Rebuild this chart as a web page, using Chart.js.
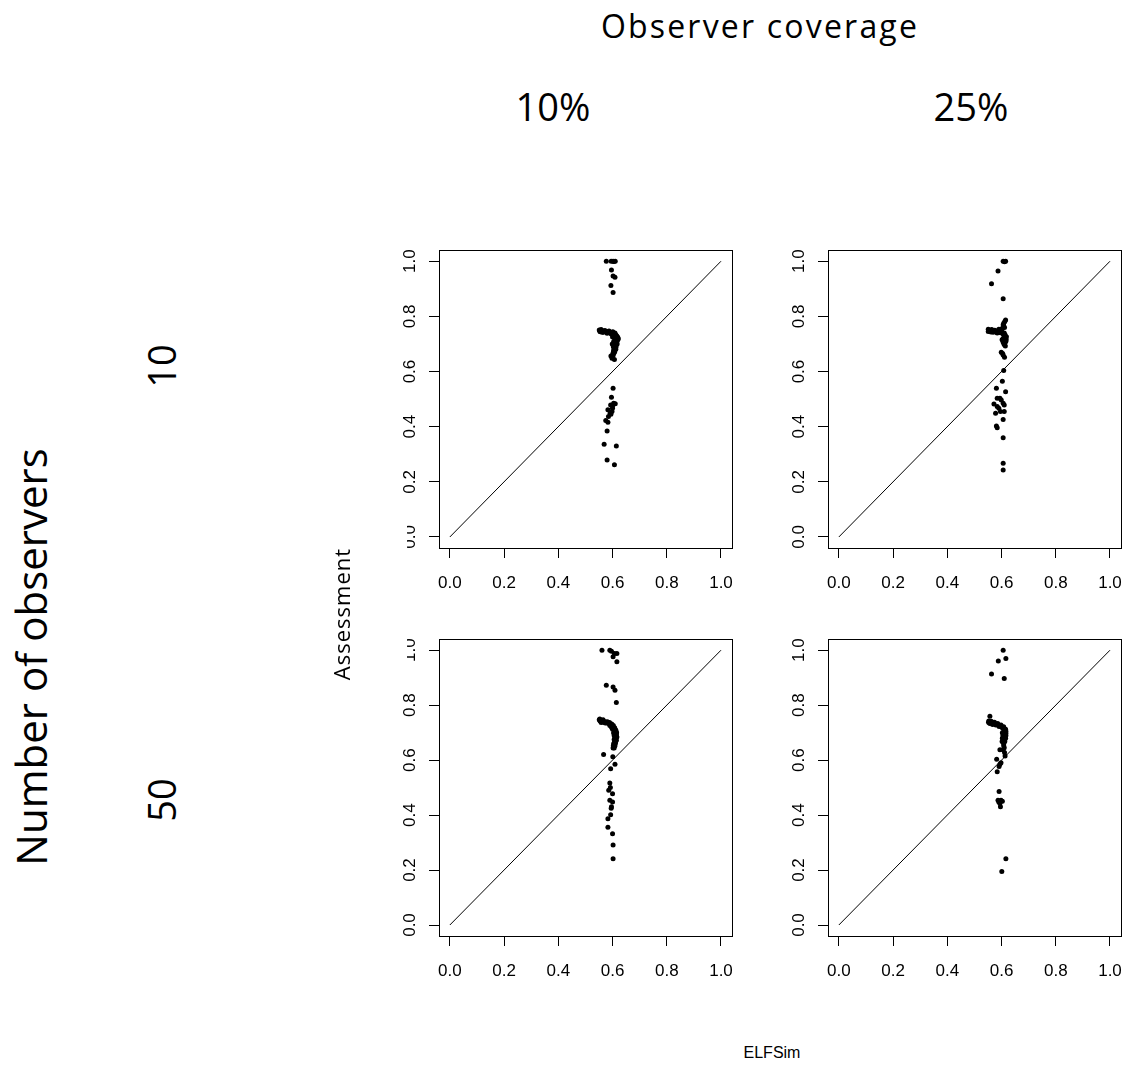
<!DOCTYPE html>
<html>
<head>
<meta charset="utf-8">
<script src="https://cdn.jsdelivr.net/npm/chart.js@4.4.1/dist/chart.umd.min.js"></script>
<style>
  html, body { margin: 0; padding: 0; background: #fff; width: 1137px; height: 1068px; overflow: hidden; position: relative; }
  canvas { position: absolute; }
  .lbl { position: absolute; font-family: "Open Sans", sans-serif; color: #000; white-space: nowrap; line-height: 1; transform: translate(-50%, -50%); }
  .rot { transform: translate(-50%, -50%) rotate(-90deg); }
  .mask { position: absolute; background: #fff; }
</style>
</head>
<body>
<div class="lbl" style="left:760px; top:26px; font-size:32px; letter-spacing:2.2px;">Observer coverage</div>
<div class="lbl" style="left:553px; top:106px; font-size:38px;">10%</div>
<div class="lbl" style="left:971px; top:106px; font-size:38px;">25%</div>
<div class="lbl rot" style="left:31px; top:657px; font-size:42px;">Number of observers</div>
<div class="lbl rot" style="left:161px; top:366px; font-size:38px;">10</div>
<div class="lbl rot" style="left:161px; top:800px; font-size:38px;">50</div>
<div class="lbl" style="left:772px; top:1053px; font-size:16px; font-family:'Liberation Sans', Arial, sans-serif;">ELFSim</div>

<script>
// ELFSim (x) against Assessment (y) for each observer coverage / number of observers combination
const tickValues = [0.0, 0.2, 0.4, 0.6, 0.8, 1.0];
const refLineX = [0, 1];
const refLineY = [0, 1];

// Coverage 10%, 10 observers
const elfsim_c10_o10 = [
  0.577, 0.595, 0.602, 0.610, 0.605, 0.596, 0.602, 0.609, 0.594, 0.602,
  0.551, 0.556, 0.560, 0.565, 0.569, 0.574, 0.578, 0.583, 0.588, 0.593,
  0.598, 0.603, 0.608, 0.612, 0.616, 0.619, 0.618, 0.617, 0.615, 0.614,
  0.611, 0.609, 0.606, 0.604, 0.603, 0.601, 0.602, 0.598, 0.607, 0.594,
  0.555, 0.562, 0.600, 0.606, 0.611, 0.608, 0.604, 0.611, 0.620, 0.613,
  0.607, 0.603, 0.612, 0.608, 0.599,
  0.553, 0.558, 0.566, 0.572, 0.580, 0.587, 0.595, 0.601, 0.609, 0.614,
  0.621, 0.613, 0.610, 0.617, 0.606, 0.605, 0.609, 0.600,
  0.602, 0.596, 0.604, 0.610, 0.593, 0.600, 0.583, 0.591, 0.585, 0.575,
  0.583, 0.580, 0.569, 0.614, 0.580, 0.607, 0.600, 0.598, 0.594
];
const assess_c10_o10 = [
  1.000, 1.000, 1.000, 1.000, 0.999, 0.968, 0.946, 0.942, 0.912, 0.887,
  0.751, 0.749, 0.748, 0.747, 0.746, 0.745, 0.744, 0.744, 0.743, 0.741,
  0.740, 0.738, 0.736, 0.733, 0.729, 0.724, 0.718, 0.712, 0.706, 0.700,
  0.694, 0.688, 0.682, 0.676, 0.670, 0.664, 0.658, 0.648, 0.644, 0.656,
  0.744, 0.742, 0.733, 0.728, 0.722, 0.715, 0.708, 0.714, 0.716, 0.690,
  0.698, 0.690, 0.681, 0.672, 0.700,
  0.746, 0.752, 0.742, 0.749, 0.739, 0.747, 0.736, 0.744, 0.740, 0.726,
  0.720, 0.710, 0.703, 0.700, 0.692, 0.666, 0.684, 0.725,
  0.539, 0.507, 0.485, 0.483, 0.479, 0.467, 0.461, 0.449, 0.437, 0.422,
  0.416, 0.384, 0.336, 0.330, 0.279, 0.262, 0.475, 0.455, 0.445
];

// Coverage 25%, 10 observers
const elfsim_c25_o10 = [
  0.606, 0.615, 0.611, 0.587, 0.563, 0.606,
  0.551, 0.551, 0.556, 0.561, 0.561, 0.566, 0.572, 0.577, 0.584, 0.584,
  0.590, 0.596, 0.600, 0.603, 0.608, 0.608, 0.612, 0.615, 0.606, 0.611,
  0.614, 0.617, 0.610, 0.606, 0.613, 0.611, 0.606, 0.602, 0.599, 0.606,
  0.611, 0.604,
  0.553, 0.558, 0.564, 0.569, 0.575, 0.580, 0.588, 0.593, 0.610, 0.613,
  0.618, 0.616, 0.609, 0.614, 0.610, 0.606, 0.611,
  0.608, 0.603, 0.581, 0.615, 0.572, 0.584, 0.594, 0.599, 0.606, 0.610,
  0.584, 0.590, 0.596, 0.578, 0.610, 0.606, 0.581, 0.584, 0.606, 0.606,
  0.606
];
const assess_c25_o10 = [
  1.000, 1.000, 0.998, 0.965, 0.918, 0.864,
  0.753, 0.745, 0.750, 0.750, 0.743, 0.748, 0.746, 0.747, 0.746, 0.740,
  0.753, 0.741, 0.748, 0.757, 0.766, 0.775, 0.781, 0.787, 0.735, 0.728,
  0.722, 0.716, 0.712, 0.706, 0.705, 0.697, 0.720, 0.715, 0.670, 0.660,
  0.652, 0.665,
  0.748, 0.746, 0.752, 0.742, 0.750, 0.743, 0.748, 0.745, 0.740, 0.733,
  0.726, 0.710, 0.700, 0.693, 0.718, 0.770, 0.760,
  0.604, 0.565, 0.539, 0.527, 0.482, 0.503, 0.503, 0.497, 0.485, 0.479,
  0.473, 0.467, 0.455, 0.449, 0.455, 0.426, 0.402, 0.396, 0.360, 0.267,
  0.243
];

// Coverage 10%, 50 observers
const elfsim_c10_o50 = [
  0.561, 0.590, 0.596, 0.607, 0.616, 0.602, 0.616, 0.577, 0.602, 0.609,
  0.614,
  0.551, 0.554, 0.557, 0.560, 0.563, 0.567, 0.571, 0.575, 0.579, 0.583,
  0.587, 0.591, 0.595, 0.598, 0.602, 0.605, 0.607, 0.609, 0.610, 0.611,
  0.611, 0.610, 0.609, 0.607, 0.604, 0.603, 0.602, 0.615, 0.614, 0.613,
  0.612, 0.606, 0.604, 0.600, 0.596, 0.590, 0.606, 0.608, 0.605,
  0.553, 0.558, 0.565, 0.573, 0.581, 0.589, 0.597, 0.603, 0.608, 0.612,
  0.614, 0.616, 0.614, 0.611, 0.609, 0.606, 0.613, 0.606, 0.608,
  0.567, 0.601, 0.609, 0.593,
  0.590, 0.586, 0.600, 0.590, 0.600, 0.595, 0.593, 0.583, 0.583, 0.600,
  0.602, 0.602, 0.592, 0.596
];
const assess_c10_o50 = [
  1.000, 1.000, 0.996, 0.988, 0.988, 0.976, 0.958, 0.872, 0.866, 0.854,
  0.810,
  0.747, 0.742, 0.745, 0.740, 0.743, 0.738, 0.740, 0.739, 0.735, 0.736,
  0.733, 0.730, 0.727, 0.723, 0.719, 0.714, 0.709, 0.703, 0.698, 0.692,
  0.686, 0.680, 0.674, 0.667, 0.660, 0.652, 0.644, 0.700, 0.690, 0.680,
  0.670, 0.690, 0.700, 0.712, 0.720, 0.726, 0.675, 0.660, 0.650,
  0.750, 0.737, 0.747, 0.735, 0.740, 0.737, 0.731, 0.726, 0.718, 0.710,
  0.696, 0.684, 0.672, 0.662, 0.652, 0.644, 0.704, 0.697, 0.685,
  0.620, 0.612, 0.585, 0.569,
  0.517, 0.490, 0.478, 0.454, 0.448, 0.425, 0.401, 0.387, 0.356, 0.332,
  0.291, 0.241, 0.500, 0.430
];

// Coverage 25%, 50 observers
const elfsim_c25_o50 = [
  0.606, 0.588, 0.616, 0.563, 0.610,
  0.557, 0.553, 0.555, 0.560, 0.565, 0.569, 0.572, 0.577, 0.581, 0.584,
  0.589, 0.593, 0.596, 0.601, 0.606, 0.609, 0.610, 0.612, 0.613, 0.613,
  0.612, 0.610, 0.606, 0.602, 0.608, 0.608, 0.594, 0.606, 0.613, 0.616,
  0.616, 0.603, 0.605, 0.603, 0.610,
  0.552, 0.557, 0.562, 0.567, 0.574, 0.579, 0.586, 0.591, 0.598, 0.604,
  0.608, 0.615, 0.611, 0.616, 0.609, 0.615, 0.612, 0.607, 0.611,
  0.582, 0.594, 0.591, 0.584, 0.598,
  0.591, 0.587, 0.598, 0.603, 0.594, 0.596, 0.616, 0.601, 0.590
];
const assess_c25_o50 = [
  1.000, 0.961, 0.970, 0.913, 0.897,
  0.760, 0.742, 0.736, 0.738, 0.735, 0.736, 0.733, 0.732, 0.730, 0.729,
  0.727, 0.725, 0.724, 0.721, 0.718, 0.713, 0.706, 0.700, 0.693, 0.686,
  0.679, 0.672, 0.676, 0.668, 0.660, 0.652, 0.638, 0.638, 0.615, 0.705,
  0.690, 0.700, 0.690, 0.680, 0.645,
  0.738, 0.733, 0.741, 0.730, 0.738, 0.728, 0.733, 0.722, 0.728, 0.716,
  0.721, 0.712, 0.696, 0.698, 0.684, 0.680, 0.668, 0.664, 0.628,
  0.603, 0.585, 0.577, 0.558, 0.590,
  0.486, 0.454, 0.454, 0.450, 0.442, 0.430, 0.241, 0.195, 0.448
];

// Panel frames on the page: [left, top, right, bottom] of each plot box
const panels = [
  { box: [439, 245, 743, 548], x: elfsim_c10_o10, y: assess_c10_o10 },
  { box: [828, 245, 1132, 548], x: elfsim_c25_o10, y: assess_c25_o10 },
  { box: [439, 634, 743, 936], x: elfsim_c10_o50, y: assess_c10_o50 },
  { box: [828, 634, 1132, 936], x: elfsim_c25_o50, y: assess_c25_o50 }
];

const boxPlugin = {
  id: 'plotBox',
  afterDraw(chart) {
    const a = chart.chartArea, ctx = chart.ctx;
    ctx.save();
    ctx.strokeStyle = '#000';
    ctx.lineWidth = 1;
    ctx.strokeRect(Math.round(a.left) + 0.5, Math.round(a.top) + 0.5,
                   Math.round(a.right - a.left), Math.round(a.bottom - a.top));
    ctx.restore();
  }
};

const tickFont = { family: 'Liberation Sans', size: 17 };

function makePanel(p) {
  const [L, T, R, B] = p.box;
  const padL = 80, padT = 12, padR = 5, padB = 62;
  const w = (R - L) + padL + padR, h = (B - T) + padT + padB;
  const c = document.createElement('canvas');
  c.width = w; c.height = h;
  c.style.left = (L - padL) + 'px';
  c.style.top = (T - padT) + 'px';
  c.style.width = w + 'px';
  c.style.height = h + 'px';
  document.body.appendChild(c);

  const axisCommon = {
    type: 'linear',
    min: -0.04,
    max: 1.04,
    afterBuildTicks: s => { s.ticks = tickValues.map(v => ({ value: v })); },
    grid: { drawOnChartArea: false, drawTicks: true, tickLength: 10, color: '#000', lineWidth: 1 },
    border: { display: true, color: '#000', width: 1 }
  };

  new Chart(c, {
    type: 'scatter',
    data: {
      datasets: [
        {
          data: p.x.map((v, i) => ({ x: v, y: p.y[i] })),
          pointRadius: 2.5,
          pointHoverRadius: 2.5,
          pointBackgroundColor: '#000',
          pointBorderWidth: 0
        },
        {
          data: refLineX.map((v, i) => ({ x: v, y: refLineY[i] })),
          showLine: true,
          borderColor: '#000',
          borderWidth: 1,
          pointRadius: 0,
          pointHoverRadius: 0
        }
      ]
    },
    options: {
      responsive: false,
      animation: false,
      devicePixelRatio: 1,
      events: [],
      layout: { padding: { left: 0, top: padT, right: padR, bottom: 0 } },
      plugins: { legend: { display: false }, tooltip: { enabled: false } },
      scales: {
        x: Object.assign({}, axisCommon, {
          afterFit: s => { s.height = padB; },
          ticks: { font: tickFont, color: '#000', padding: 15, autoSkip: false, maxRotation: 0, minRotation: 0,
                   callback: v => Number(v).toFixed(1) }
        }),
        y: Object.assign({}, axisCommon, {
          afterFit: s => { s.width = padL; },
          ticks: { font: tickFont, color: '#000', padding: 7, autoSkip: false, minRotation: 90, maxRotation: 90,
                   crossAlign: 'center', callback: v => Number(v).toFixed(1) }
        })
      }
    },
    plugins: [boxPlugin]
  });
}

panels.forEach(makePanel);

// y-axis title sits in a white label box drawn above the plots
const mask = document.createElement('div');
mask.className = 'mask';
mask.style.cssText = 'left:300px; top:516px; width:107px; height:148px;';
document.body.appendChild(mask);
const yTitle = document.createElement('div');
yTitle.className = 'lbl rot';
yTitle.style.cssText = 'left:341px; top:614px; font-size:22px; letter-spacing:1px;';
yTitle.textContent = 'Assessment';
document.body.appendChild(yTitle);
</script>
</body>
</html>
